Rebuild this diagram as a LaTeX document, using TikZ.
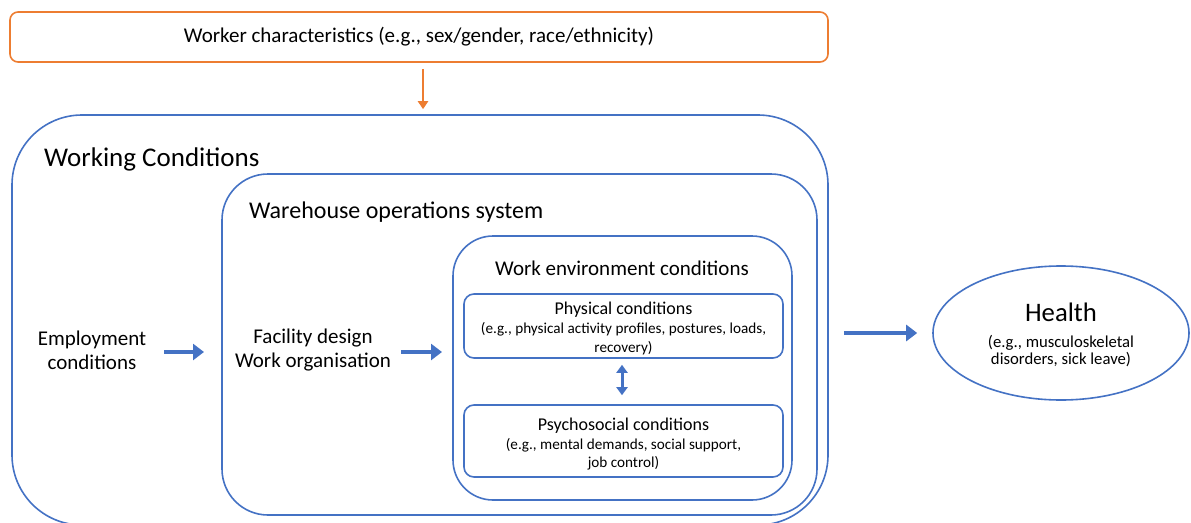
\documentclass[tikz,border=0pt]{standalone}
\usepackage{fontspec}
\setmainfont{Carlito}
\usetikzlibrary{arrows.meta,shapes.geometric}
\definecolor{boxblue}{HTML}{4472C4}
\definecolor{boxorange}{HTML}{ED7D31}
% size and baseline skip, both in pt
\newcommand{\fsz}[2]{\fontsize{#1}{#2}\selectfont}
\tikzset{
  frame/.style={draw=boxblue, line width=1.6pt, rounded corners=#1, inner sep=0pt},
  fatarrow/.style={draw=boxblue, line width=4pt, -{Triangle[length=11pt,width=16pt]}},
  thinarrow/.style={draw=boxblue, line width=3pt, {Triangle[length=8pt,width=11pt]}-{Triangle[length=8pt,width=11pt]}},
  label/.style={inner sep=0pt, text=black}
}
\begin{document}
\begin{tikzpicture}[x=1pt, y=-1pt]
  \useasboundingbox (0,0) rectangle (1191,522);
  \clip (0,0) rectangle (1191,522);

  % worker characteristics
  \node[draw=boxorange, line width=1.6pt, rounded corners=8pt, minimum width=818pt, minimum height=50pt, inner sep=0pt,
        font=\fsz{21}{25}]
    (worker) at (419,37) {Worker characteristics (e.g., sex/gender, race/ethnicity)};

  % nested frames
  \node[frame=70pt, minimum width=816pt, minimum height=410pt] (working) at (420,320) {};
  \node[frame=46pt, minimum width=595pt, minimum height=341pt] (warehouse) at (519.5,344.5) {};
  \node[frame=40pt, minimum width=339pt, minimum height=264pt] (workenv) at (622.5,368) {};

  \node[label, anchor=west, font=\fsz{27}{32}] (workingtitle) at (44,159) {Working Conditions};
  \node[label, anchor=west, font=\fsz{24}{29}] (warehousetitle) at (249,212) {Warehouse operations system};
  \node[label, font=\fsz{21}{25}] (workenvtitle) at (622,268) {Work environment conditions};

  \node[frame=10pt, minimum width=319pt, minimum height=64pt, align=center, font=\fsz{15.2}{18.5}] (physical) at (623.5,326) {};
  \node[label, align=center, font=\fsz{15.2}{18.5}] (physicaltext) at (623.5,328.5)
    {{\fsz{18}{18}Physical conditions}\\[0.5pt](e.g., physical activity profiles, postures, loads,\\recovery)};
  \node[frame=10pt, minimum width=319pt, minimum height=72pt] (psycho) at (623.5,441) {};
  \node[label, align=center, font=\fsz{15.2}{18.5}] (psychotext) at (623.5,444)
    {{\fsz{18}{18}Psychosocial conditions}\\[0.5pt](e.g., mental demands, social support,\\job control)};

  \node[label, align=center, font=\fsz{21}{24}] (employment) at (92,350) {Employment\\conditions};
  \node[label, align=center, font=\fsz{21}{24}] (facility) at (313,350) {Facility design\\Work organisation};

  \node[draw=boxblue, line width=1.6pt, ellipse, minimum width=256pt, minimum height=134pt] (health) at (1061,333) {};
  \node[label, align=center, font=\fsz{16.7}{17}] (healthtext) at (1061,335)
    {{\fsz{26.7}{27}Health}\\[9pt](e.g., musculoskeletal\\disorders, sick leave)};

  % connectors
  \draw[draw=boxorange, line width=2.2pt, -{Triangle[length=8pt,width=10pt]}, shorten <=6pt, shorten >=5pt]
    (worker.south -| 423,0) -- (working.north -| 423,0);
  \coordinate (a1s) at (164,352);
  \coordinate (a1e) at (204,352);
  \draw[fatarrow] (a1s) -- (a1e);
  \coordinate (a2s) at (401,352);
  \coordinate (a2e) at (442,352);
  \draw[fatarrow] (a2s) -- (a2e);
  \draw[fatarrow, shorten <=15pt, shorten >=15pt] (working.east |- health.west) -- (health.west);
  \draw[thinarrow, shorten <=6pt, shorten >=9pt] (physical.south -| 622,0) -- (psycho.north -| 622,0);
\end{tikzpicture}
\end{document}
